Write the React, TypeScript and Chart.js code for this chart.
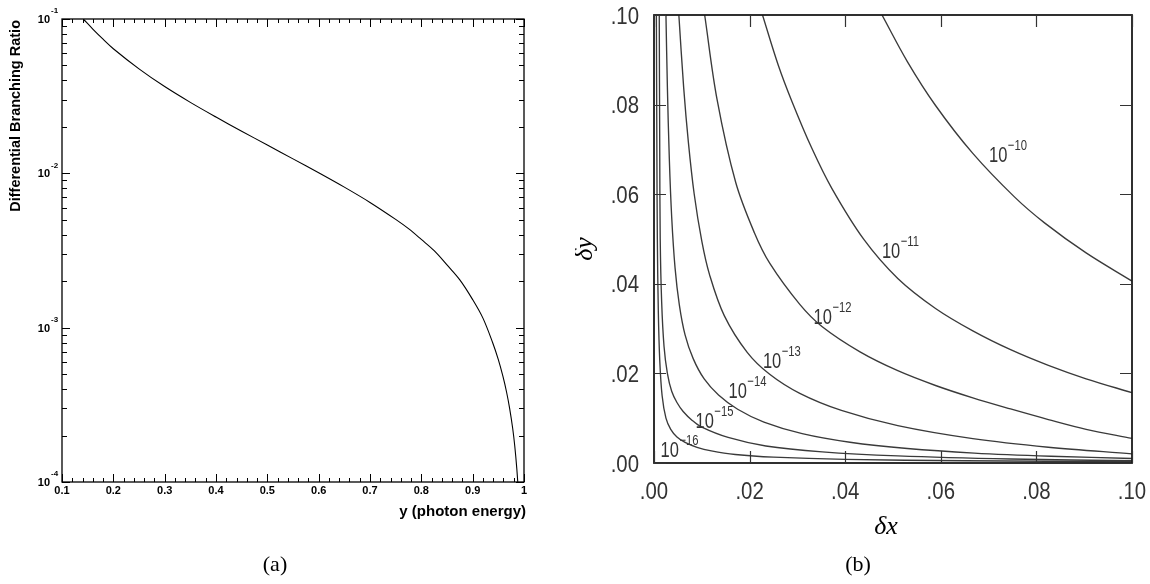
import React, { useEffect, useRef } from "react";
import { Chart, registerables } from "chart.js";

Chart.register(...registerables);

// ---------------- Panel (a) data ----------------
const photonEnergy = [
  0.1415, 0.16, 0.18, 0.2, 0.25, 0.3, 0.35, 0.4, 0.45, 0.5, 0.55, 0.6, 0.65, 0.7,
  0.75, 0.775, 0.8, 0.825, 0.85, 0.875, 0.9, 0.92, 0.939, 0.95, 0.959, 0.966, 0.972,
  0.978, 0.982, 0.986, 0.989,
];
const branchingRatio = [
  0.1, 0.0861, 0.074, 0.0642, 0.04754, 0.03649, 0.02883, 0.02316, 0.01875, 0.01525,
  0.01241, 0.01009, 0.00814, 0.00648, 0.00503, 0.00438, 0.00373, 0.003155, 0.00255,
  0.00204, 0.00152, 0.001153, 0.000798, 0.00062, 0.000483, 0.000383, 0.0003, 0.000222,
  0.000171, 0.000122, 0.0000874,
];
const aXTickValues = [0.1, 0.2, 0.3, 0.4, 0.5, 0.6, 0.7, 0.8, 0.9, 1];
const aXTickLabels = ["0.1", "0.2", "0.3", "0.4", "0.5", "0.6", "0.7", "0.8", "0.9", "1"];
const aYDecades = [-1, -2, -3, -4];
const aYExponentLabels = ["-1", "-2", "-3", "-4"];
const aXTitle = "y (photon energy)";
const aYTitle = "Differential Branching Ratio";

// ---------------- Panel (b) data ----------------
const c10x = [0.0477, 0.053, 0.0589, 0.0667, 0.0754, 0.0817, 0.0904, 0.1];
const c10y = [0.1, 0.0896, 0.0798, 0.0691, 0.0594, 0.0536, 0.0469, 0.0406];

const c11x = [0.0227, 0.026, 0.0289, 0.033, 0.0372, 0.0439, 0.051, 0.0589, 0.0667, 0.0746, 0.0825, 0.0904, 0.1];
const c11y = [0.1, 0.0888, 0.0806, 0.0703, 0.0613, 0.0499, 0.0412, 0.0345, 0.0295, 0.0253, 0.0218, 0.0188, 0.0157];

const c12x = [0.0106, 0.0132, 0.0171, 0.021, 0.0242, 0.0305, 0.0352, 0.0431, 0.051, 0.0589, 0.0667, 0.0746, 0.0825, 0.0904, 0.1];
const c12y = [0.1, 0.0811, 0.0626, 0.0514, 0.0446, 0.0354, 0.0304, 0.0248, 0.0206, 0.0173, 0.01454, 0.01206, 0.0097, 0.00752, 0.0055];

const c13x = [0.0052, 0.0062, 0.0072, 0.0084, 0.01, 0.0116, 0.0147, 0.0195, 0.0242, 0.0305, 0.0392, 0.051, 0.0667, 0.0825, 0.1];
const c13y = [0.1, 0.0839, 0.0715, 0.0601, 0.0495, 0.0421, 0.0329, 0.0247, 0.0198, 0.01554, 0.01173, 0.00833, 0.00543, 0.00352, 0.00205];

const c14x = [0.0025, 0.0028, 0.0032, 0.0037, 0.0044, 0.0053, 0.0065, 0.0082, 0.0105, 0.0135, 0.0175, 0.023, 0.031, 0.041, 0.053, 0.067, 0.083, 0.1];
const c14y = [0.1, 0.0839, 0.0681, 0.0549, 0.0436, 0.0353, 0.0286, 0.0233, 0.01876, 0.01519, 0.012, 0.00913, 0.00655, 0.00463, 0.00323, 0.00222, 0.00151, 0.001];

const c15x = [0.0011, 0.0012, 0.0013, 0.0016, 0.0021, 0.0028, 0.0037, 0.0048, 0.0061, 0.008, 0.01, 0.0155, 0.0234, 0.0352, 0.051, 0.0746, 0.1];
const c15y = [0.1, 0.07, 0.05, 0.036, 0.026, 0.02, 0.016, 0.0135, 0.0115, 0.0095, 0.008, 0.0057, 0.0038, 0.0025, 0.0016, 0.0009, 0.0005];

const c16x = [0.0005, 0.0006, 0.0007, 0.0009, 0.0012, 0.0017, 0.0025, 0.0035, 0.0048, 0.0065, 0.009, 0.012, 0.017, 0.025, 0.04, 0.065, 0.1];
const c16y = [0.1, 0.07, 0.05, 0.034, 0.023, 0.015, 0.01, 0.0075, 0.0058, 0.0046, 0.0035, 0.0027, 0.0019, 0.0013, 0.0008, 0.0005, 0.0003];

const contourXs = [c10x, c11x, c12x, c13x, c14x, c15x, c16x];
const contourYs = [c10y, c11y, c12y, c13y, c14y, c15y, c16y];
const contourExponents = ["\u221210", "\u221211", "\u221212", "\u221213", "\u221214", "\u221215", "\u221216"];
const contourLabelX = [0.072, 0.0496, 0.0353, 0.0247, 0.0175, 0.0106, 0.0033];
const contourLabelY = [0.0686, 0.0472, 0.0323, 0.0225, 0.0158, 0.0092, 0.0027];

const bTickValues = [0, 0.02, 0.04, 0.06, 0.08, 0.1];
const bTickLabels = [".00", ".02", ".04", ".06", ".08", ".10"];

// ---------------- helpers ----------------
function drawText(
  ctx: CanvasRenderingContext2D,
  s: string,
  x: number,
  y: number,
  font: string,
  align: CanvasTextAlign = "center",
  sx = 1,
  color = "#000",
  rot = 0
) {
  ctx.save();
  ctx.translate(x, y);
  if (rot) ctx.rotate(rot);
  ctx.scale(sx, 1);
  ctx.font = font;
  ctx.textAlign = align;
  ctx.textBaseline = "middle";
  ctx.fillStyle = color;
  ctx.fillText(s, 0, 0);
  ctx.restore();
}

const panelAPlugin = {
  id: "panelA",
  afterDraw(chart: any) {
    const { ctx, chartArea: a } = chart;
    const xs = chart.scales.x;
    const ys = chart.scales.y;
    ctx.save();
    ctx.strokeStyle = "#000";
    ctx.lineWidth = 1.3;
    ctx.strokeRect(a.left, a.top, a.right - a.left, a.bottom - a.top);
    ctx.lineWidth = 1;
    ctx.beginPath();
    for (let k = 0; k <= 45; k++) {
      const v = 0.1 + k * 0.02;
      const px = Math.round(xs.getPixelForValue(v)) + 0.5;
      const len = k % 5 === 0 ? 8 : 4;
      ctx.moveTo(px, a.bottom);
      ctx.lineTo(px, a.bottom - len);
      ctx.moveTo(px, a.top);
      ctx.lineTo(px, a.top + len);
    }
    for (const d of aYDecades) {
      for (let m = 1; m <= 9; m++) {
        const v = m * Math.pow(10, d);
        if (v > 0.1 * 1.0001 || v < 1e-4 * 0.9999) continue;
        const py = Math.round(ys.getPixelForValue(v)) + 0.5;
        const len = m === 1 ? 8 : 5;
        ctx.moveTo(a.left, py);
        ctx.lineTo(a.left + len, py);
        ctx.moveTo(a.right, py);
        ctx.lineTo(a.right - len, py);
      }
    }
    ctx.stroke();

    const tickFont = "bold 11px 'Liberation Sans', Arial, sans-serif";
    aXTickValues.forEach((v, i) => {
      drawText(ctx, aXTickLabels[i], xs.getPixelForValue(v), a.bottom + 9, tickFont);
    });
    aYDecades.forEach((d, i) => {
      const py = ys.getPixelForValue(Math.pow(10, d));
      drawText(ctx, "10", a.left - 12, py + 1, "bold 11px 'Liberation Sans', Arial, sans-serif", "right");
      drawText(ctx, aYExponentLabels[i], a.left - 11, py - 8, "bold 8px 'Liberation Sans', Arial, sans-serif", "left");
    });
    drawText(ctx, aXTitle, a.right + 2, a.bottom + 30, "bold 15px 'Liberation Sans', Arial, sans-serif", "right");
    drawText(ctx, aYTitle, 16, a.top + 1, "bold 14.5px 'Liberation Sans', Arial, sans-serif", "right", 1, "#000", -Math.PI / 2);
    drawText(ctx, "(a)", 275, 565, "22px 'Liberation Serif', 'Times New Roman', serif", "center");
    ctx.restore();
  },
};

const panelBPlugin = {
  id: "panelB",
  afterDraw(chart: any) {
    const { ctx, chartArea: a } = chart;
    const xs = chart.scales.x;
    const ys = chart.scales.y;
    ctx.save();
    ctx.strokeStyle = "#1a1a1a";
    ctx.lineWidth = 1.8;
    ctx.strokeRect(a.left, a.top, a.right - a.left, a.bottom - a.top);
    ctx.lineWidth = 1.2;
    ctx.strokeStyle = "#333";
    ctx.beginPath();
    bTickValues.forEach((v) => {
      const px = Math.round(xs.getPixelForValue(v)) + 0.5;
      const py = Math.round(ys.getPixelForValue(v)) + 0.5;
      ctx.moveTo(px, a.bottom);
      ctx.lineTo(px, a.bottom - 12);
      ctx.moveTo(px, a.top);
      ctx.lineTo(px, a.top + 12);
      ctx.moveTo(a.left, py);
      ctx.lineTo(a.left + 12, py);
      ctx.moveTo(a.right, py);
      ctx.lineTo(a.right - 12, py);
    });
    ctx.stroke();

    const tickFont = "24px 'Liberation Sans', Arial, sans-serif";
    bTickValues.forEach((v, i) => {
      drawText(ctx, bTickLabels[i], xs.getPixelForValue(v), a.bottom + 29, tickFont, "center", 0.85, "#333");
      drawText(ctx, bTickLabels[i], a.left - 15, ys.getPixelForValue(v) + 2, tickFont, "right", 0.85, "#333");
    });

    // contour labels
    contourExponents.forEach((e, i) => {
      const px = xs.getPixelForValue(contourLabelX[i]);
      const py = ys.getPixelForValue(contourLabelY[i]);
      const f1 = "22px 'Liberation Sans', Arial, sans-serif";
      ctx.save();
      ctx.font = f1;
      const w = ctx.measureText("10").width * 0.75;
      ctx.restore();
      drawText(ctx, "10", px, py, f1, "center", 0.75, "#333");
      drawText(ctx, e, px + w / 2 + 0.5, py - 10, "15px 'Liberation Sans', Arial, sans-serif", "left", 0.75, "#333");
    });

    const mathFont = "italic 26px 'Liberation Serif', 'DejaVu Serif', serif";
    drawText(ctx, "\u03b4x", 311, 527, mathFont, "center");
    drawText(ctx, "\u03b4y", 10, 249, mathFont, "center", 1, "#000", -Math.PI / 2);
    drawText(ctx, "(b)", 283, 565, "22px 'Liberation Serif', 'Times New Roman', serif", "center");
    ctx.restore();
  },
};

export default function App() {
  const aRef = useRef<HTMLCanvasElement | null>(null);
  const bRef = useRef<HTMLCanvasElement | null>(null);

  useEffect(() => {
    const chartA = new Chart(aRef.current as HTMLCanvasElement, {
      type: "scatter",
      data: {
        datasets: [
          {
            data: photonEnergy.map((x, i) => ({ x, y: branchingRatio[i] })),
            showLine: true,
            borderColor: "#000",
            borderWidth: 1.1,
            pointRadius: 0,
            tension: 0.35,
            fill: false,
          } as any,
        ],
      },
      options: {
        responsive: false,
        animation: false,
        events: [],
        layout: { padding: { left: 62, top: 19, right: 575 - 524, bottom: 584 - 482 } },
        plugins: { legend: { display: false }, tooltip: { enabled: false } },
        scales: {
          x: { type: "linear", min: 0.1, max: 1, display: false },
          y: { type: "logarithmic", min: 1e-4, max: 1e-1, display: false },
        },
      },
      plugins: [panelAPlugin],
    });

    const chartB = new Chart(bRef.current as HTMLCanvasElement, {
      type: "scatter",
      data: {
        datasets: contourXs.map((xsArr, k) => ({
          data: xsArr.map((x, i) => ({ x, y: contourYs[k][i] })),
          showLine: true,
          borderColor: "#3a3a3a",
          borderWidth: 1.35,
          pointRadius: 0,
          tension: 0.35,
          fill: false,
        })) as any,
      },
      options: {
        responsive: false,
        animation: false,
        events: [],
        layout: { padding: { left: 79, top: 15, right: 18, bottom: 584 - 463 } },
        plugins: { legend: { display: false }, tooltip: { enabled: false } },
        scales: {
          x: { type: "linear", min: 0, max: 0.1, display: false },
          y: { type: "linear", min: 0, max: 0.1, display: false },
        },
      },
      plugins: [panelBPlugin],
    });

    return () => {
      chartA.destroy();
      chartB.destroy();
    };
  }, []);

  return (
    <div
      style={{
        position: "fixed",
        left: 0,
        top: 0,
        width: 1150,
        height: 584,
        background: "#fff",
        overflow: "hidden",
      }}
    >
      <canvas ref={aRef} width={575} height={584} style={{ position: "absolute", left: 0, top: 0 }} />
      <canvas ref={bRef} width={575} height={584} style={{ position: "absolute", left: 575, top: 0 }} />
    </div>
  );
}
